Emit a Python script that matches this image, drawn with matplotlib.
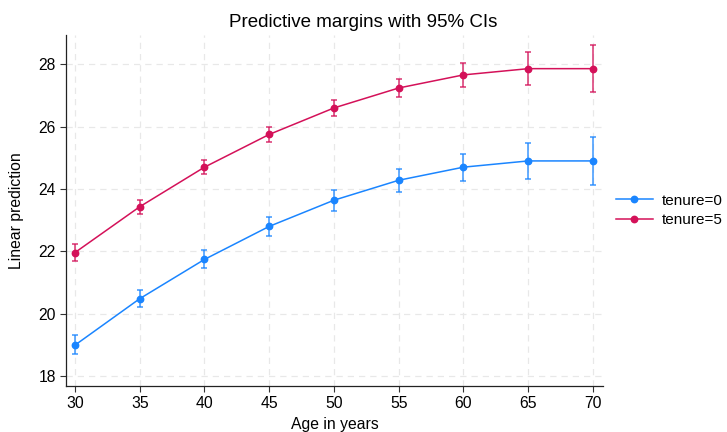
import matplotlib
matplotlib.use("Agg")
import matplotlib.pyplot as plt

plt.rcParams['font.family'] = ['Liberation Sans', 'DejaVu Sans']

ages = [30, 35, 40, 45, 50, 55, 60, 65, 70]
t0_mean = [18.99, 20.48, 21.74, 22.80, 23.64, 24.28, 24.70, 24.90, 24.90]
t0_lo = [18.70, 20.20, 21.46, 22.48, 23.30, 23.90, 24.26, 24.33, 24.12]
t0_hi = [19.32, 20.75, 22.03, 23.11, 23.97, 24.63, 25.12, 25.47, 25.67]
t5_mean = [21.96, 23.43, 24.70, 25.75, 26.60, 27.24, 27.66, 27.86, 27.86]
t5_lo = [21.68, 23.21, 24.48, 25.51, 26.33, 26.94, 27.27, 27.34, 27.11]
t5_hi = [22.23, 23.66, 24.93, 26.00, 26.85, 27.52, 28.03, 28.39, 28.61]
labels = ['tenure=0', 'tenure=5']
colors = ['#1a85ff', '#d41159']
xticks = [30, 35, 40, 45, 50, 55, 60, 65, 70]
yticks = [18, 20, 22, 24, 26, 28]

FS = 11.3

fig = plt.figure(figsize=(7.27, 4.32), dpi=100)
ax = fig.add_axes([0.0908, 0.1065, 0.7386, 0.8125])

series = [(t0_mean, t0_lo, t0_hi), (t5_mean, t5_lo, t5_hi)]
for (m, lo, hi), lab, c in zip(series, labels, colors):
    yerr = [[mm - l for mm, l in zip(m, lo)], [h - mm for mm, h in zip(m, hi)]]
    ax.errorbar(ages, m, yerr=yerr, fmt='none', ecolor=c, elinewidth=1.1,
                capsize=2.3, capthick=1.1, alpha=0.85, zorder=3)
    ax.plot(ages, m, color=c, lw=1.1, marker='o', markersize=4.6, label=lab, zorder=4)

ax.set_xlim(29.31, 70.77)
ax.set_ylim(17.68, 28.94)
ax.set_xticks(xticks)
ax.set_yticks(yticks)
ax.grid(True, color='#e8e8e8', linestyle=(0, (5, 4)), linewidth=0.9)
ax.set_axisbelow(True)
for s in ['top', 'right']:
    ax.spines[s].set_visible(False)
for s in ['left', 'bottom']:
    ax.spines[s].set_color('#222222')
    ax.spines[s].set_linewidth(0.9)
ax.tick_params(direction='out', length=4.3, width=0.8, pad=3, labelsize=FS,
               colors='#333333', labelcolor='black')
ax.set_xlabel('Age in years', fontsize=FS, labelpad=4.5)
ax.set_ylabel('Linear prediction', fontsize=FS, labelpad=10)
ax.set_title('Predictive margins with 95% CIs', fontsize=13.5, pad=6,
             x=(363.5 - 66) / 537)

leg = ax.legend(loc='center left', bbox_to_anchor=(1.0, 0.5), frameon=False,
                fontsize=11, handlelength=2.4, handletextpad=0.6, labelspacing=0.35,
                borderaxespad=0.45)

fig.savefig('out.png', dpi=100)
